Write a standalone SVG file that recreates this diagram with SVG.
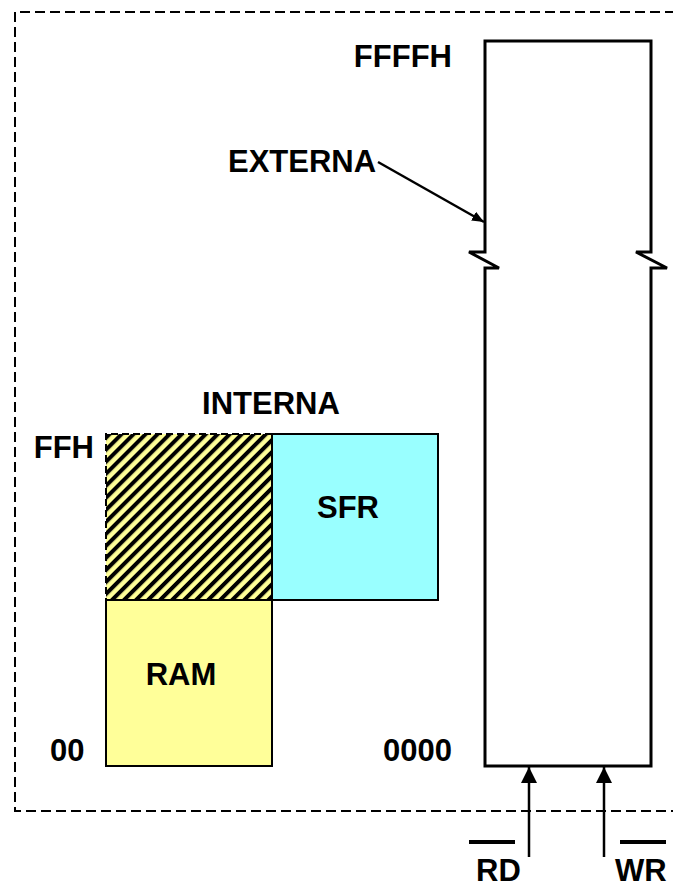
<svg xmlns="http://www.w3.org/2000/svg" width="673" height="885" viewBox="0 0 673 885">
  <style>
    .lbl { font-family: "Liberation Sans", Arial, sans-serif; font-weight: bold; font-size: 31px; fill: #000; }
    .edge { stroke: #000; stroke-width: 2.5; fill: none; }
    .frame { stroke: #000; stroke-width: 2; fill: none; stroke-dasharray: 10 5; }
  </style>
  <defs>
    <pattern id="hatch" patternUnits="userSpaceOnUse" width="8.5" height="8.5" patternTransform="rotate(45)">
      <rect x="0" y="0" width="8.5" height="8.5" fill="#FFFF99"/>
      <rect x="0" y="0" width="4" height="8.5" fill="#000"/>
    </pattern>
    <marker id="arrow" viewBox="0 0 12 10" refX="12" refY="5" markerWidth="12" markerHeight="10" markerUnits="userSpaceOnUse" orient="auto">
      <path d="M0,0 L12,5 L0,10 Z" fill="#000"/>
    </marker>
    <marker id="arrowUp" viewBox="0 0 16 18" refX="16" refY="8" markerWidth="16" markerHeight="18" markerUnits="userSpaceOnUse" orient="auto">
      <path d="M0,0 L16,8 L0,16 Z" fill="#000"/>
    </marker>
  </defs>

  <rect width="673" height="885" fill="#fff"/>

  <!-- system boundary -->
  <g id="boundary">
    <path class="frame" d="M690,12 H15 V811 H690"/>
  </g>

  <!-- external memory column -->
  <g id="externa-mem">
    <path d="M485,41 H651 V252 H636 L667,268 H651 V766 H485 V268 H499 L469,252 H485 Z" fill="#fff" stroke="#000" stroke-width="3" stroke-linejoin="miter"/>
    <text class="lbl" x="452" y="67" text-anchor="end">FFFFH</text>
    <text class="lbl" x="452" y="761" text-anchor="end">0000</text>
  </g>

  <g id="externa-label">
    <text class="lbl" x="228" y="172">EXTERNA</text>
  </g>

  <!-- internal memory blocks -->
  <g id="ram-upper">
    <rect x="106" y="434" width="166" height="166" fill="url(#hatch)"/>
    <path d="M272,434 H106 V600 H272" fill="none" stroke="#000" stroke-width="2" stroke-dasharray="7 4"/>
  </g>

  <g id="sfr">
    <rect x="272" y="434" width="166" height="166" fill="#99FFFF" stroke="#000" stroke-width="2"/>
    <text class="lbl" x="348" y="518" text-anchor="middle">SFR</text>
  </g>

  <g id="ram">
    <rect x="106" y="600" width="166" height="166" fill="#FFFF99" stroke="#000" stroke-width="2"/>
    <text class="lbl" x="181" y="685" text-anchor="middle">RAM</text>
  </g>

  <g id="interna-labels">
    <text class="lbl" x="271" y="414" text-anchor="middle">INTERNA</text>
    <text class="lbl" x="94" y="458" text-anchor="end">FFH</text>
    <text class="lbl" x="50" y="761">00</text>
  </g>

  <!-- control signals -->
  <g id="rd">
    <line x1="469" y1="842" x2="515" y2="842" stroke="#000" stroke-width="4"/>
    <text class="lbl" x="476" y="881">RD</text>
  </g>
  <g id="wr">
    <line x1="620" y1="842" x2="666" y2="842" stroke="#000" stroke-width="4"/>
    <text class="lbl" x="615" y="881">WR</text>
  </g>

  <g id="connectors">
    <line class="edge" x1="378" y1="162" x2="484" y2="222" stroke-width="2" marker-end="url(#arrow)"/>
    <line class="edge" x1="529" y1="857" x2="529" y2="767" marker-end="url(#arrowUp)"/>
    <line class="edge" x1="604" y1="857" x2="604" y2="767" marker-end="url(#arrowUp)"/>
  </g>
</svg>
